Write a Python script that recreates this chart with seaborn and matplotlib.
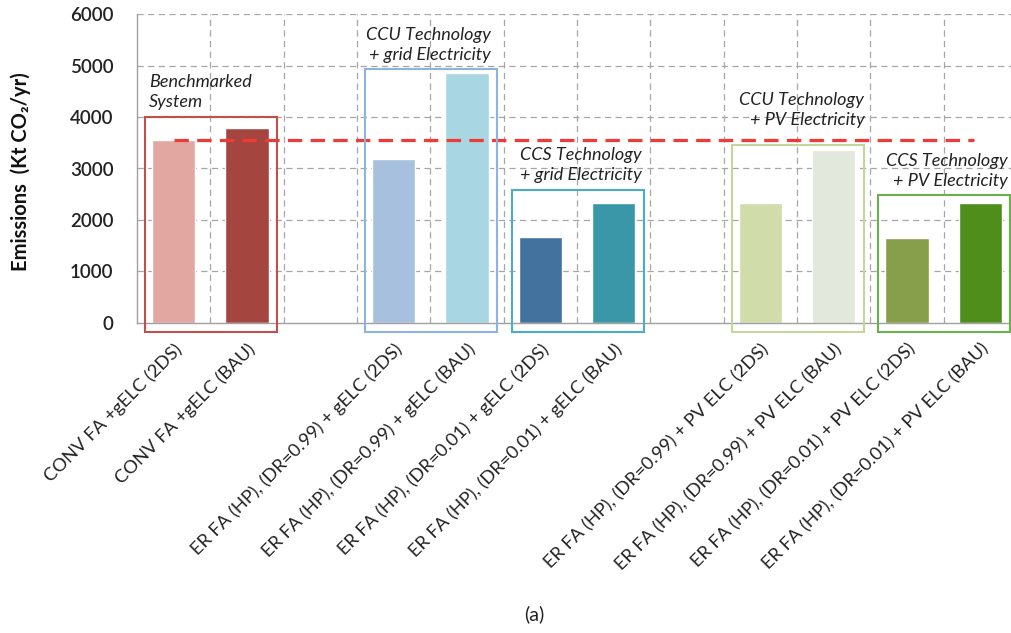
import matplotlib
matplotlib.use("Agg")
import matplotlib.pyplot as plt
from matplotlib.patches import Rectangle
import seaborn as sns
import pandas as pd

# Scenario labels and annual emissions (kt CO2 / yr)
scenarios = [
    "CONV FA +gELC (2DS)",
    "CONV FA +gELC (BAU)",
    "ER FA (HP), (DR=0.99) + gELC (2DS)",
    "ER FA (HP), (DR=0.99) + gELC (BAU)",
    "ER FA (HP), (DR=0.01) + gELC (2DS)",
    "ER FA (HP), (DR=0.01) + gELC (BAU)",
    "ER FA (HP), (DR=0.99) + PV ELC (2DS)",
    "ER FA (HP), (DR=0.99) + PV ELC (BAU)",
    "ER FA (HP), (DR=0.01) + PV ELC (2DS)",
    "ER FA (HP), (DR=0.01) + PV ELC (BAU)",
]
emissions = [3550, 3780, 3180, 4850, 1660, 2335, 2323, 3360, 1648, 2323]
bar_colors = ["#e3a7a2", "#a4463f", "#a6c0de", "#a8d6e3", "#44729f",
              "#3a97a7", "#d0ddab", "#e2e8db", "#879f4a", "#4f8e1b"]

# Slot order on the x axis, with blank spacers between technology groups
spacer_a, spacer_b = " ", "  "
slot_order = scenarios[:2] + [spacer_a] + scenarios[2:6] + [spacer_b] + scenarios[6:]

benchmark_level = 3550

# Group frames: (label, first slot, last slot, top value, edge colour, text x, text y, align)
groups = [
    ("Benchmarked\nSystem", 0, 1, 4000, "#c0504d", -0.34, 4480, "left"),
    ("CCU Technology\n+ grid Electricity", 3, 4, 4935, "#8db3e2", 4.33, 5400, "right"),
    ("CCS Technology\n+ grid Electricity", 5, 6, 2580, "#4bacc6", 6.38, 3068, "right"),
    ("CCU Technology\n+ PV Electricity", 8, 9, 3455, "#c3d69b", 9.42, 4138, "right"),
    ("CCS Technology\n+ PV Electricity", 10, 11, 2485, "#6ab04c", 11.37, 2950, "right"),
]

sns.set_theme(style="white")
plt.rcParams["font.family"] = ["Lato", "DejaVu Sans"]

df = pd.DataFrame({"scenario": scenarios, "emissions": emissions})

fig = plt.figure(figsize=(10.11, 6.33), dpi=100)
ax = fig.add_axes([137 / 1011, 1 - 322.7 / 633, 1 - 137 / 1011, (322.7 - 14.3) / 633])

sns.barplot(data=df, x="scenario", y="emissions", hue="scenario", order=slot_order,
            hue_order=scenarios, palette=bar_colors, width=0.59, legend=False,
            saturation=1, ax=ax)

ax.set_ylim(0, 6000)
ax.set_xlim(-0.5, 11.42)
ax.set_yticks(range(0, 6001, 1000))

# Dashed grid: horizontal at every 1000, vertical at slot boundaries
for y in range(1000, 6001, 1000):
    ax.axhline(y, color="#a6a6a6", lw=0.9, ls=(0, (5, 3.5)), zorder=0)
for xb in [i + 0.5 for i in range(11)]:
    ax.axvline(xb, color="#a6a6a6", lw=0.9, ls=(0, (5, 3.5)), zorder=0)

for side in ["top", "right"]:
    ax.spines[side].set_visible(False)
for side in ["left", "bottom"]:
    ax.spines[side].set_color("#a0a0a0")
    ax.spines[side].set_linewidth(1.0)

# Benchmark reference line
ax.plot([0, 10.92], [benchmark_level, benchmark_level], color="#ee3b36",
        lw=2.3, ls=(0, (4.5, 2.6)), zorder=4)

# Group frames and their captions
for label, s0, s1, top, col, tx, ty, ha in groups:
    x0 = s0 - 0.39
    x1 = s1 + 0.41
    rect = Rectangle((x0, -190), x1 - x0, top + 190, fill=False, edgecolor=col,
                     lw=1.5, clip_on=False, zorder=5)
    ax.add_patch(rect)
    ax.text(tx, ty, label, ha=ha, va="center", fontsize=13, style="italic",
            color="#222222", linespacing=1.3, zorder=6)

ax.set_xlabel("")
ax.set_ylabel("Emissions  (Kt CO₂/yr)", fontsize=14.5, fontweight="bold",
              color="#111111")
ax.yaxis.set_label_coords(-(137 - 31) / (1011 - 137), 0.49)
ax.tick_params(axis="y", length=0, pad=17, labelsize=13.5, labelcolor="#222222")
for t in ax.get_yticklabels():
    t.set_fontweight("semibold")
ax.tick_params(axis="x", length=0, pad=13)
ax.set_xticks(range(len(slot_order)))
ax.set_xticklabels(slot_order, rotation=45, ha="right", rotation_mode="anchor",
                   fontsize=13.2, color="#222222")

fig.text(534 / 1011, 1 - 614 / 633, "(a)", ha="center", va="center", fontsize=14,
         color="#222222")

fig.savefig("out.png", dpi=100)
